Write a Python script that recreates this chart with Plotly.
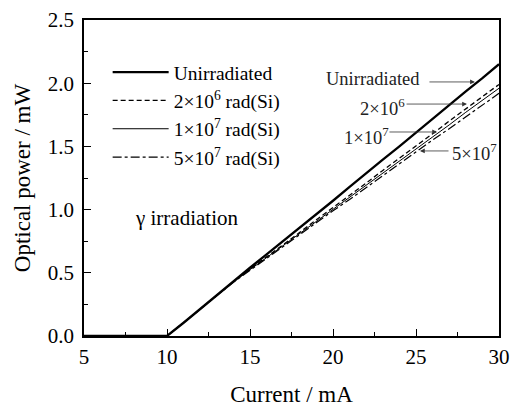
import plotly.graph_objects as go

current = [5, 6, 7, 8, 9, 10, 11, 12, 13, 14, 15, 16, 17, 18, 19, 20,
           21, 22, 23, 24, 25, 26, 27, 28, 29, 30]
p_unirr = [0, 0, 0, 0, 0, 0.0, 0.105, 0.215, 0.32, 0.43, 0.54, 0.645, 0.75,
           0.86, 0.965, 1.07, 1.18, 1.29, 1.395, 1.50, 1.61, 1.72, 1.83,
           1.935, 2.04, 2.15]
p_2e6 = [0, 0, 0, 0, 0, 0.0, 0.105, 0.215, 0.32, 0.43, 0.53, 0.625, 0.72,
         0.82, 0.92, 1.015, 1.11, 1.21, 1.31, 1.405, 1.50, 1.60, 1.70,
         1.795, 1.89, 1.99]
p_1e7 = [0, 0, 0, 0, 0, 0.0, 0.105, 0.215, 0.32, 0.43, 0.525, 0.62, 0.715,
         0.81, 0.905, 1.0, 1.095, 1.19, 1.29, 1.385, 1.48, 1.575, 1.67,
         1.77, 1.865, 1.96]
p_5e7 = [0, 0, 0, 0, 0, 0.0, 0.105, 0.215, 0.32, 0.425, 0.52, 0.615, 0.71,
         0.80, 0.895, 0.99, 1.08, 1.175, 1.27, 1.36, 1.455, 1.55, 1.64,
         1.735, 1.83, 1.92]

names = ["Unirradiated", "2×10<sup>6</sup> rad(Si)",
         "1×10<sup>7</sup> rad(Si)", "5×10<sup>7</sup> rad(Si)"]

FONT = "Liberation Serif, Times New Roman, serif"

fig = go.Figure()
fig.add_trace(go.Scatter(x=current, y=p_unirr, mode="lines", name=names[0],
                         line=dict(color="black", width=2.3)))
fig.add_trace(go.Scatter(x=current, y=p_2e6, mode="lines", name=names[1],
                         line=dict(color="black", width=1.3, dash="5px,3px")))
fig.add_trace(go.Scatter(x=current, y=p_1e7, mode="lines", name=names[2],
                         line=dict(color="black", width=1.0)))
fig.add_trace(go.Scatter(x=current, y=p_5e7, mode="lines", name=names[3],
                         line=dict(color="black", width=1.2, dash="dashdot")))

ann = []
labels = [
    ("Unirradiated", 22.41, 2.033),
    ("2×10<sup>6</sup>", 23.01, 1.81),
    ("1×10<sup>7</sup>", 21.99, 1.58),
    ("5×10<sup>7</sup>", 28.55, 1.455),
]
for t, x, y in labels:
    ann.append(dict(text=t, x=x, y=y, xref="x", yref="y", showarrow=False,
                    xanchor="center", yanchor="middle",
                    font=dict(family=FONT, size=18.5, color="#222")))
arrows = [
    (25.72, 2.01, 28.55, 2.01),
    (24.34, 1.835, 28.07, 1.835),
    (23.31, 1.614, 26.27, 1.614),
    (27.05, 1.464, 25.24, 1.464),
]
for x0, y0, x1, y1 in arrows:
    ann.append(dict(text="", x=x1, y=y1, ax=x0, ay=y0, xref="x", yref="y",
                    axref="x", ayref="y", showarrow=True, arrowhead=2,
                    arrowsize=1.2, arrowwidth=0.8, arrowcolor="#333"))
ann.append(dict(text="γ irradiation", x=0.248, y=0.373, xref="paper",
                yref="paper", showarrow=False, xanchor="center", yanchor="middle",
                font=dict(family=FONT, size=21, color="black")))

fig.update_layout(
    width=511, height=408,
    margin=dict(l=84, r=12, t=20, b=72, autoexpand=False),
    plot_bgcolor="white", paper_bgcolor="white",
    font=dict(family=FONT, size=18, color="black"),
    showlegend=True,
    legend=dict(x=0.057, y=0.896, xanchor="left", yanchor="top",
                bgcolor="rgba(0,0,0,0)", font=dict(family=FONT, size=19.5),
                tracegroupgap=0, itemwidth=56),
    annotations=ann,
)
fig.update_xaxes(range=[5, 30], dtick=5, tick0=5, showline=True, mirror=True,
                 automargin=False,
                 linecolor="black", linewidth=1.5, ticks="inside", ticklen=7,
                 tickwidth=1.2, tickcolor="black", showgrid=False, zeroline=False,
                 minor=dict(dtick=2.5, ticks="inside", ticklen=4, tickcolor="black",
                            showgrid=False),
                 title=dict(text="Current / mA", font=dict(family=FONT, size=23), standoff=18),
                 tickfont=dict(family=FONT, size=21), ticklabelstandoff=1)
fig.update_yaxes(range=[0, 2.5], dtick=0.5, tickformat=".1f", showline=True,
                 automargin=False,
                 mirror=True, linecolor="black", linewidth=1.5, ticks="inside",
                 ticklen=7, tickwidth=1.2, tickcolor="black", showgrid=False,
                 zeroline=False,
                 minor=dict(dtick=0.25, ticks="inside", ticklen=4, tickcolor="black",
                            showgrid=False),
                 title=dict(text="Optical power / mW", font=dict(family=FONT, size=23), standoff=11),
                 tickfont=dict(family=FONT, size=21), ticklabelstandoff=4)

fig.write_html("out.html", config={"displayModeBar": False},
               post_script="document.body.style.margin='0';document.body.style.overflow='hidden';")
